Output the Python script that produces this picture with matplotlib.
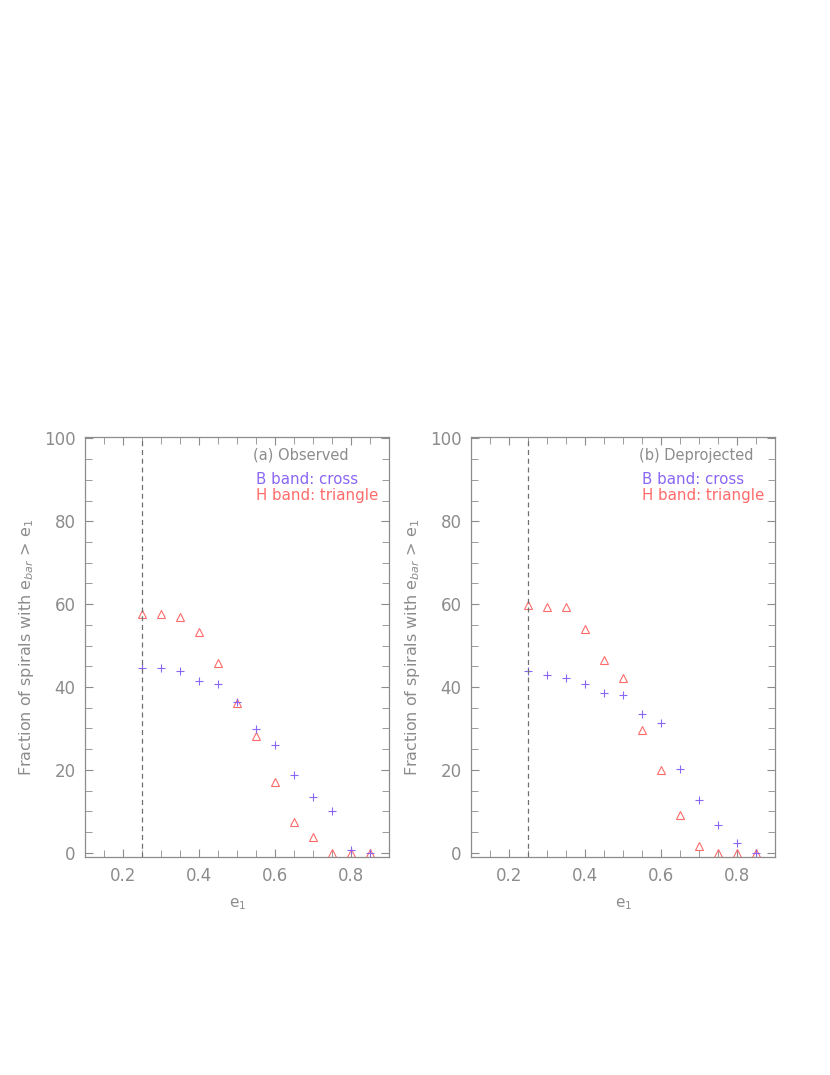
import matplotlib
matplotlib.use('Agg')
import matplotlib.pyplot as plt
from matplotlib.ticker import MultipleLocator

# thresholds e_1
e1 = [0.25, 0.30, 0.35, 0.40, 0.45, 0.50, 0.55, 0.60, 0.65, 0.70, 0.75, 0.80, 0.85]

# (a) observed
obs_b = [44.5, 44.5, 43.8, 41.5, 40.8, 36.5, 29.8, 26.0, 18.8, 13.5, 10.0, 0.8, 0.0]
obs_h = [57.6, 57.6, 57.0, 53.2, 45.8, 36.2, 28.2, 17.2, 7.4, 3.8, 0.0, 0.0, 0.0]

# (b) deprojected
dep_b = [43.8, 43.0, 42.3, 40.8, 38.6, 38.0, 33.5, 31.3, 20.3, 12.8, 6.8, 2.4, 0.0]
dep_h = [59.9, 59.2, 59.2, 53.9, 46.6, 42.3, 29.7, 20.1, 9.1, 1.6, 0.0, 0.0, 0.0]

panels = ['(a) Observed', '(b) Deprojected']

GREY = '#8c8c8c'
BLUE = '#8a66f5'
RED = '#ff6b6b'

plt.rcParams['font.family'] = ['DejaVu Sans']

fig = plt.figure(figsize=(8.3, 10.75), dpi=100)
ax1 = fig.add_axes([0.1028, 0.2028, 0.3663, 0.391])
ax2 = fig.add_axes([0.5678, 0.2028, 0.3663, 0.391])

for ax, title, yb, yh in [(ax1, panels[0], obs_b, obs_h), (ax2, panels[1], dep_b, dep_h)]:
    ax.plot(e1, yh, linestyle='none', marker='^', mfc='none', mec=RED, ms=5.5, mew=0.8)
    ax.plot(e1, yb, linestyle='none', marker='+', color=BLUE, ms=6, mew=0.8)
    ax.axvline(0.25, color='#707070', linestyle=(0, (4, 3)), lw=0.9)

    ax.set_xlim(0.1, 0.9)
    ax.set_ylim(-1, 100.4)
    ax.xaxis.set_major_locator(MultipleLocator(0.2))
    ax.xaxis.set_minor_locator(MultipleLocator(0.05))
    ax.yaxis.set_major_locator(MultipleLocator(20))
    ax.yaxis.set_minor_locator(MultipleLocator(5))
    ax.tick_params(which='both', direction='in', top=True, right=True,
                   color=GREY, labelcolor=GREY, labelsize=12, pad=7)
    ax.tick_params(which='major', length=6)
    ax.tick_params(which='minor', length=5)
    for sp in ax.spines.values():
        sp.set_color(GREY)
        sp.set_linewidth(0.9)

    ax.set_xlabel('e$_1$', color=GREY, fontsize=11, labelpad=8)
    ax.set_ylabel('Fraction of spirals with e$_{bar}$ > e$_1$', color=GREY, fontsize=11.5, labelpad=6)

    ax.text(0.553, 0.956, title, transform=ax.transAxes, color=GREY, fontsize=10.5, va='center')
    ax.text(0.56, 0.897, 'B band: cross', transform=ax.transAxes, color=BLUE, fontsize=10.8, va='center')
    ax.text(0.56, 0.859, 'H band: triangle', transform=ax.transAxes, color=RED, fontsize=10.8, va='center')

fig.savefig('out.png', dpi=100)
